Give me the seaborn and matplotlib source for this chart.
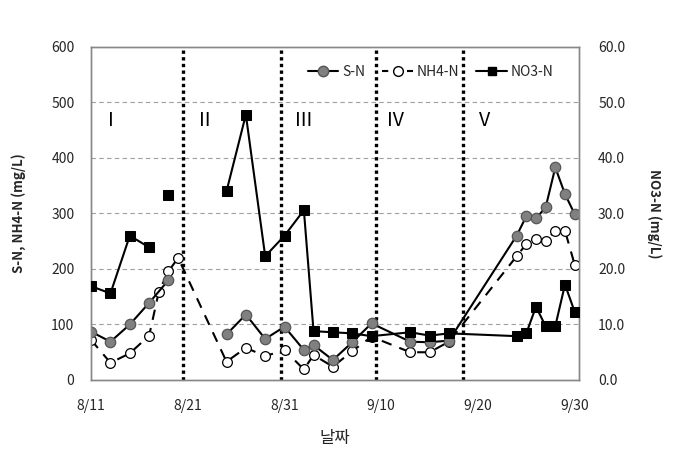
import numpy as np
import pandas as pd
import matplotlib
matplotlib.use("Agg")
import matplotlib.pyplot as plt
from matplotlib.lines import Line2D
from matplotlib.ticker import FuncFormatter
import seaborn as sns

YEAR = "2013-"

# S-N (left axis, mg/L); NaN breaks the line
SN_DATES = ["08-11", "08-13", "08-15", "08-17", "08-19", "08-22", "08-25", "08-27", "08-29", "08-31",
            "09-02", "09-03", "09-05", "09-07", "09-09", "09-13", "09-15", "09-17",
            "09-24", "09-25", "09-26", "09-27", "09-28", "09-29", "09-30"]
SN_VALUES = [87, 69, 100, 139, 180, np.nan, 82, 118, 74, 96,
             54, 63, 36, 68, 102, 69, 68, 71,
             260, 295, 291, 311, 383, 335, 299]

# NH4-N (left axis, mg/L)
NH4_DATES = ["08-11", "08-13", "08-15", "08-17", "08-18", "08-19", "08-20", "08-25", "08-27", "08-29", "08-31",
             "09-02", "09-03", "09-05", "09-07", "09-09", "09-13", "09-15", "09-17",
             "09-24", "09-25", "09-26", "09-27", "09-28", "09-29", "09-30"]
NH4_VALUES = [72, 31, 48, 80, 159, 196, 220, 33, 58, 43, 54,
              19, 45, 24, 52, 78, 50, 50, 69,
              223, 245, 254, 251, 269, 269, 208]

# NO3-N (right axis, mg/L)
NO3_DATES = ["08-11", "08-13", "08-15", "08-17", "08-18", "08-19", "08-22", "08-25", "08-27", "08-29", "08-31",
             "09-02", "09-03", "09-05", "09-07", "09-09", "09-13", "09-15", "09-17",
             "09-24", "09-25", "09-26", "09-27", "09-28", "09-29", "09-30"]
NO3_VALUES = [16.9, 15.6, 26.0, 23.9, np.nan, 33.3, np.nan, 34.0, 47.8, 22.3, 26.0,
              30.6, 8.8, 8.6, 8.4, 7.9, 8.6, 8.0, 8.4,
              7.9, 8.4, 13.2, 9.7, 9.7, 17.2, 12.3]

PHASE_BOUNDS = ["08-20 12:00", "08-30 14:00", "09-09 12:00", "09-18 12:00"]
PHASE_LABELS = ["I", "II", "III", "IV", "V"]
PHASE_LABEL_X = ["08-13 01:00", "08-22 17:00", "09-02 00:00", "09-11 12:00", "09-20 17:00"]
X_TICKS = ["08-11", "08-21", "08-31", "09-10", "09-20", "09-30"]


def to_frame(dates, values):
    df = pd.DataFrame({"date": pd.to_datetime([YEAR + d for d in dates]), "value": values})
    df["seg"] = df["value"].isna().cumsum()
    return df.dropna()


sns.set_style("white")
plt.rcParams["font.family"] = ["Noto Sans CJK KR", "DejaVu Sans"]

fig = plt.figure(figsize=(6.8, 4.54), dpi=100)
ax = fig.add_axes([0.134, 0.163, 0.717, 0.7335])
ax2 = ax.twinx()

df_sn = to_frame(SN_DATES, SN_VALUES)
df_nh4 = to_frame(NH4_DATES, NH4_VALUES)
df_no3 = to_frame(NO3_DATES, NO3_VALUES)

sns.lineplot(data=df_nh4, x="date", y="value", units="seg", estimator=None, ax=ax, color="black",
             linewidth=1.5, dashes=False, linestyle=(0, (5, 4)), marker="o", markersize=7,
             markerfacecolor="white", markeredgecolor="black", markeredgewidth=0.9, zorder=3)
sns.lineplot(data=df_sn, x="date", y="value", units="seg", estimator=None, ax=ax, color="black",
             linewidth=1.5, marker="o", markersize=7.5, markerfacecolor="#808080",
             markeredgecolor="#555555", markeredgewidth=0.9, zorder=4)
sns.lineplot(data=df_no3, x="date", y="value", units="seg", estimator=None, ax=ax2, color="black",
             linewidth=1.5, marker="s", markersize=7, markerfacecolor="black",
             markeredgecolor="black", zorder=5)

x0 = pd.Timestamp(YEAR + "08-11")
ax.set_xlim(x0, pd.Timestamp(YEAR + "09-30") + pd.Timedelta(hours=10))
ax.set_ylim(0, 600)
ax2.set_ylim(0, 60)
ax.set_yticks(np.arange(0, 601, 100))
ax2.set_yticks(np.arange(0, 61, 10))
ax2.yaxis.set_major_formatter(FuncFormatter(lambda v, p: f"{v:.1f}"))
ax.set_xticks(pd.to_datetime([YEAR + d for d in X_TICKS]))
ax.xaxis.set_major_formatter(FuncFormatter(
    lambda v, p: f"{matplotlib.dates.num2date(v).month}/{matplotlib.dates.num2date(v).day}"))

for y in range(100, 600, 100):
    ax.axhline(y, color="#a0a0a0", linewidth=0.8, linestyle=(0, (4, 3)), zorder=1)

for b in PHASE_BOUNDS:
    ax.axvline(pd.Timestamp(YEAR + b), color="black", linewidth=2.4, linestyle=(0, (1, 1)), zorder=2)

for lab, xs in zip(PHASE_LABELS, PHASE_LABEL_X):
    ax.text(pd.Timestamp(YEAR + xs), 467, lab, ha="center", va="center", fontsize=14,
            color="black")

ax.tick_params(axis="x", direction="in", length=4, color="#888888", labelsize=10, pad=14)
ax.tick_params(axis="y", length=0, labelsize=10, pad=12)
ax2.tick_params(axis="y", length=0, labelsize=10, pad=14)
for a in (ax, ax2):
    for s in a.spines.values():
        s.set_color("#888888")
        s.set_linewidth(1.0)

ax.set_xlabel("날짜", fontsize=12, labelpad=12)
ax.set_ylabel("S-N, NH4-N (mg/L)", fontsize=9.5, fontweight="bold", labelpad=18)
ax2.set_ylabel("NO3-N (mg/L)", fontsize=9.5, fontweight="bold", rotation=-90, labelpad=26)

handles = [
    Line2D([], [], color="black", linewidth=1.5, marker="o", markersize=7.5,
           markerfacecolor="#808080", markeredgecolor="#555555"),
    Line2D([], [], color="black", linewidth=1.5, linestyle=(0, (3, 3)), marker="o", markersize=7,
           markerfacecolor="white", markeredgecolor="black"),
    Line2D([], [], color="black", linewidth=1.5, marker="s", markersize=6, markerfacecolor="black"),
]
ax2.legend(handles, ["S-N", "NH4-N", "NO3-N"], ncol=3, frameon=False, loc="center right",
           bbox_to_anchor=(0.975, 0.925), fontsize=10, handlelength=2.2, columnspacing=1.2,
           handletextpad=0.3)

fig.savefig("out.png", dpi=100)
